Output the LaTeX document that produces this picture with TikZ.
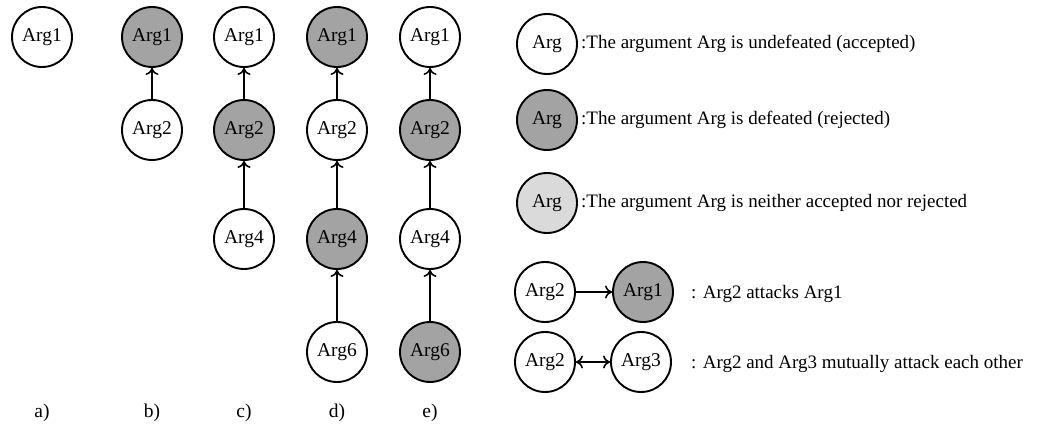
\documentclass[tikz,border=0pt]{standalone}
\usepackage{fontspec}
\setmainfont{Liberation Serif}
\usetikzlibrary{arrows.meta}
\definecolor{defeated}{HTML}{A3A3A3}
\definecolor{undecided}{HTML}{DADADA}
\tikzset{
  arg/.style={circle, draw=black, line width=1.9pt, minimum size=60pt, inner sep=0pt, font=\fontsize{19.5}{19.5}\selectfont},
  acc/.style={arg, fill=white},
  rej/.style={arg, fill=defeated},
  und/.style={arg, fill=undecided},
  tip/.style={To[length=7pt,width=13pt,line width=1.6pt]},
  atk/.style={line width=1.6pt, -{To[length=7pt,width=13pt,line width=1.6pt]}},
  mutual/.style={line width=1.6pt, {To[length=7pt,width=13pt,line width=1.6pt]}-{To[length=7pt,width=13pt,line width=1.6pt]}},
  caption/.style={font=\fontsize{19.5}{19.5}\selectfont},
  legend/.style={anchor=west, inner sep=0pt, font=\fontsize{19}{19}\selectfont}
}
\begin{document}
\begin{tikzpicture}[x=1pt, y=-1pt]
\useasboundingbox (0,0) rectangle (1042,436);
% a)
\node[acc] (a1) at (42,37) {Arg1};
% b)
\node[rej] (b1) at (152,37) {Arg1};
\node[acc] (b2) at (152,130) {Arg2};
\draw[atk] (b2) -- (b1);
% c)
\node[acc] (c1) at (244,37) {Arg1};
\node[rej] (c2) at (244,130) {Arg2};
\node[acc] (c4) at (244,239) {Arg4};
\draw[atk] (c2) -- (c1);
\draw[atk] (c4) -- (c2);
% d)
\node[rej] (d1) at (337,37) {Arg1};
\node[acc] (d2) at (337,130) {Arg2};
\node[rej] (d4) at (337,239) {Arg4};
\node[acc] (d6) at (337,352) {Arg6};
\draw[atk] (d2) -- (d1);
\draw[atk] (d4) -- (d2);
\draw[atk] (d6) -- (d4);
% e)
\node[acc] (e1) at (430,37) {Arg1};
\node[rej] (e2) at (430,130) {Arg2};
\node[acc] (e4) at (430,239) {Arg4};
\node[rej] (e6) at (430,352) {Arg6};
\draw[atk] (e2) -- (e1);
\draw[atk] (e4) -- (e2);
\draw[atk] (e6) -- (e4);
% captions
\node[caption] (la) at (42,413) {a)};
\node[caption] (lb) at (152,413) {b)};
\node[caption] (lc) at (244,413) {c)};
\node[caption] (ld) at (337,413) {d)};
\node[caption] (le) at (430,413) {e)};
% legend
\node[acc] (k1) at (547,44) {Arg};
\node[legend] (t1) at (581,44) {:The argument Arg is undefeated (accepted)};
\node[rej] (k2) at (547,120) {Arg};
\node[legend] (t2) at (581,120) {:The argument Arg is defeated (rejected)};
\node[und] (k3) at (547,203) {Arg};
\node[legend] (t3) at (581,203) {:The argument Arg is neither accepted nor rejected};
\node[acc] (k4a) at (545,292) {Arg2};
\node[rej] (k4b) at (643,292) {Arg1};
\draw[atk] (k4a) -- (k4b);
\node[legend] (t4) at (691,294) {: Arg2 attacks Arg1};
\node[acc] (k5a) at (545,362) {Arg2};
\node[acc] (k5b) at (641,362) {Arg3};
\draw[mutual] (k5a) -- (k5b);
\node[legend] (t5) at (691,364) {: Arg2 and Arg3 mutually attack each other};
\end{tikzpicture}
\end{document}
